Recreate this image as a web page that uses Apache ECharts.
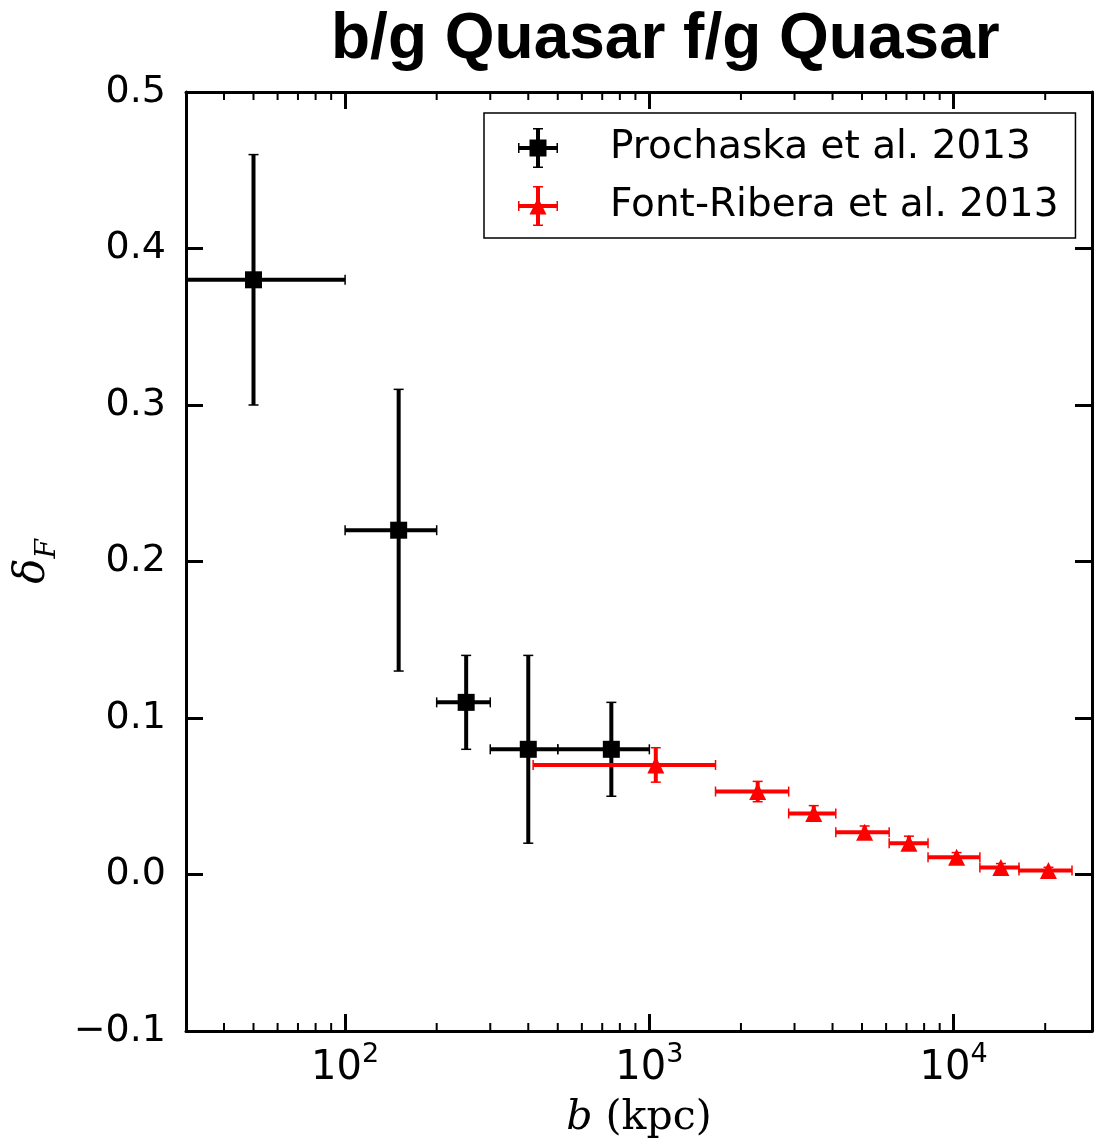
<!DOCTYPE html>
<html lang="en">
<head>
    <meta charset="UTF-8">
    <title>delta_F vs b</title>
    <script src="https://cdn.jsdelivr.net/npm/echarts@6/dist/echarts.min.js"></script>
    <style>
        html, body { margin: 0; padding: 0; background: #fff; }
    </style>
</head>
<body>
    <div id="main" style="width:1097px;height:1144px;"></div>
    <script type="text/javascript">
        // Prochaska et al. 2013: b, delta, b low, b high, delta err
        const proB = [50, 150, 250, 400, 750];
        const proDelta = [0.38, 0.22, 0.11, 0.08, 0.08];
        const proBLow = [0, 100, 200, 300, 500];
        const proBHigh = [100, 200, 300, 500, 1000];
        const proErr = [0.08, 0.09, 0.03, 0.06, 0.03];

        // Font-Ribera et al. 2013
        const frB = [1050, 2270, 3470, 5100, 7130, 10230, 14300, 20500];
        const frDelta = [0.070, 0.053, 0.039, 0.027, 0.020, 0.011, 0.0045, 0.0026];
        const frBLow = [415, 1650, 2870, 4100, 6140, 8240, 12200, 16400];
        const frBHigh = [1650, 2870, 4100, 6140, 8240, 12200, 16400, 24500];
        const frErr = [0.011, 0.0065, 0.005, 0.004, 0.0045, 0.003, 0.0025, 0.002];

        // minor tick positions on the log axis
        const minorTicks = [40, 50, 60, 70, 80, 90, 200, 300, 400, 500, 600, 700, 800, 900,
            2000, 3000, 4000, 5000, 6000, 7000, 8000, 9000, 20000];

        const xMin = 30, xMax = 28500;

        function rows(b, d, lo, hi, err) {
            return b.map((v, i) => [v, d[i], lo[i], hi[i], d[i] - err[i], d[i] + err[i]]);
        }

        function errorBarItem(color, marker) {
            return function (params, api) {
                const cs = params.coordSys;
                const c = api.coord([api.value(0), api.value(1)]);
                const lo = api.value(2) > 0 ? Math.max(api.coord([api.value(2), 0])[0], cs.x) : cs.x;
                const hi = Math.min(api.coord([api.value(3), 0])[0], cs.x + cs.width);
                const yTop = api.coord([api.value(0), api.value(5)])[1];
                const yBot = api.coord([api.value(0), api.value(4)])[1];
                const line = { stroke: color, lineWidth: 4 };
                const cap = { stroke: color, lineWidth: 1.5 };
                const kids = [
                    { type: 'line', shape: { x1: lo, y1: c[1], x2: hi, y2: c[1] }, style: line },
                    { type: 'line', shape: { x1: c[0], y1: yTop, x2: c[0], y2: yBot }, style: line },
                    { type: 'line', shape: { x1: c[0] - 5, y1: yTop, x2: c[0] + 5, y2: yTop }, style: cap },
                    { type: 'line', shape: { x1: c[0] - 5, y1: yBot, x2: c[0] + 5, y2: yBot }, style: cap }
                ];
                if (lo > cs.x + 1) {
                    kids.push({ type: 'line', shape: { x1: lo, y1: c[1] - 5, x2: lo, y2: c[1] + 5 }, style: cap });
                }
                kids.push({ type: 'line', shape: { x1: hi, y1: c[1] - 5, x2: hi, y2: c[1] + 5 }, style: cap });
                if (marker === 'square') {
                    kids.push({ type: 'rect', shape: { x: c[0] - 8.5, y: c[1] - 8.5, width: 17, height: 17 }, style: { fill: color } });
                } else {
                    kids.push({ type: 'polygon', shape: { points: [[c[0], c[1] - 8.5], [c[0] - 8.5, c[1] + 8.5], [c[0] + 8.5, c[1] + 8.5]] }, style: { fill: color } });
                }
                return { type: 'group', children: kids };
            };
        }

        // legend icons: error-bar cross with the marker, all sub-paths drawn clockwise
        const crossPath = 'M0,18L40,18L40,22L0,22Z M18,0L22,0L22,40L18,40Z M15,0L25,0L25,1.5L15,1.5Z M15,38.5L25,38.5L25,40L15,40Z M0,15L1.5,15L1.5,25L0,25Z M38.5,15L40,15L40,25L38.5,25Z';
        const blackIcon = 'path://' + crossPath + ' M11.5,11.5L28.5,11.5L28.5,28.5L11.5,28.5Z';
        const redIcon = 'path://' + crossPath + ' M20,11.5L28.5,28.5L11.5,28.5Z';

        const tickStyle = { show: true, inside: true, length: 17, lineStyle: { color: '#000', width: 3 } };
        const axisLineStyle = { show: true, onZero: false, lineStyle: { color: '#000', width: 3 } };

        function logLabel(v) {
            const e = Math.round(Math.log10(v));
            if (Math.abs(Math.pow(10, e) - v) > 1e-6 * v) return '';
            return '{b|10}{s|' + e + '}';
        }

        const options = {
            animation: false,
            backgroundColor: '#fff',
            title: {
                text: 'b/g Quasar f/g Quasar',
                left: 326,
                top: 3,
                textStyle: { fontFamily: 'Liberation Sans', fontWeight: 'bold', fontSize: 64, color: '#000' }
            },
            legend: {
                orient: 'vertical',
                left: 484,
                top: 113,
                padding: [15, 17, 12, 34],
                itemGap: 18,
                itemWidth: 40,
                itemHeight: 40,
                borderColor: '#000',
                borderWidth: 1.5,
                borderRadius: 0,
                backgroundColor: '#fff',
                textStyle: { fontFamily: 'DejaVu Sans', fontSize: 39, color: '#000', padding: [0, 0, 0, 47] },
                data: [
                    { name: 'Prochaska et al. 2013', icon: blackIcon, itemStyle: { color: '#000' } },
                    { name: 'Font-Ribera et al. 2013', icon: redIcon, itemStyle: { color: '#ff0000' } }
                ]
            },
            grid: { left: 186, right: 5, top: 92, bottom: 113, containLabel: false },
            xAxis: [{
                type: 'log',
                min: xMin,
                max: xMax,
                position: 'bottom',
                axisLine: axisLineStyle,
                axisTick: tickStyle,
                splitLine: { show: false },
                name: '{i|b}{r| (kpc)}',
                nameLocation: 'middle',
                nameGap: 67,
                nameTextStyle: {
                    rich: {
                        i: { fontFamily: 'DejaVu Serif', fontStyle: 'italic', fontSize: 41, color: '#000' },
                        r: { fontFamily: 'DejaVu Serif', fontSize: 41, color: '#000' }
                    }
                },
                axisLabel: {
                    margin: 10,
                    showMinLabel: false,
                    showMaxLabel: false,
                    formatter: logLabel,
                    rich: {
                        b: { fontFamily: 'DejaVu Sans', fontSize: 40, color: '#000', lineHeight: 48, verticalAlign: 'bottom' },
                        s: { fontFamily: 'DejaVu Sans', fontSize: 27, color: '#000', lineHeight: 27, verticalAlign: 'top' }
                    }
                }
            }, {
                type: 'log',
                min: xMin,
                max: xMax,
                position: 'top',
                axisLine: axisLineStyle,
                axisTick: tickStyle,
                axisLabel: { show: false },
                splitLine: { show: false }
            }],
            yAxis: [{
                type: 'value',
                min: -0.1,
                max: 0.5,
                interval: 0.1,
                position: 'left',
                axisLine: axisLineStyle,
                axisTick: tickStyle,
                splitLine: { show: false },
                axisLabel: {
                    margin: 20,
                    fontFamily: 'DejaVu Sans',
                    fontSize: 38,
                    color: '#000',
                    formatter: v => v.toFixed(1).replace('-', '\u2212')
                },
                name: '{d|δ}{f|F}',
                nameLocation: 'middle',
                nameRotate: 90,
                nameGap: 124,
                nameTextStyle: {
                    rich: {
                        d: { fontFamily: 'DejaVu Serif', fontStyle: 'italic', fontSize: 42, color: '#000', lineHeight: 50, verticalAlign: 'top' },
                        f: { fontFamily: 'DejaVu Serif', fontStyle: 'italic', fontSize: 28, color: '#000', lineHeight: 50, verticalAlign: 'bottom' }
                    }
                }
            }, {
                type: 'value',
                min: -0.1,
                max: 0.5,
                interval: 0.1,
                position: 'right',
                axisLine: axisLineStyle,
                axisTick: tickStyle,
                axisLabel: { show: false },
                splitLine: { show: false }
            }],
            series: [{
                name: 'minor ticks',
                type: 'custom',
                silent: true,
                xAxisIndex: 0,
                yAxisIndex: 0,
                data: minorTicks.map(v => [v]),
                renderItem: function (params, api) {
                    const cs = params.coordSys;
                    const x = api.coord([api.value(0), 0])[0];
                    const st = { stroke: '#000', lineWidth: 2 };
                    return {
                        type: 'group', children: [
                            { type: 'line', shape: { x1: x, y1: cs.y + cs.height, x2: x, y2: cs.y + cs.height - 8 }, style: st },
                            { type: 'line', shape: { x1: x, y1: cs.y, x2: x, y2: cs.y + 8 }, style: st }
                        ]
                    };
                },
                encode: { x: 0 }
            }, {
                name: 'Prochaska et al. 2013',
                type: 'custom',
                xAxisIndex: 0,
                yAxisIndex: 0,
                itemStyle: { color: '#000' },
                data: rows(proB, proDelta, proBLow, proBHigh, proErr),
                encode: { x: [0, 2, 3], y: [1, 4, 5] },
                renderItem: errorBarItem('#000', 'square'),
                z: 3
            }, {
                name: 'Font-Ribera et al. 2013',
                type: 'custom',
                xAxisIndex: 0,
                yAxisIndex: 0,
                itemStyle: { color: '#ff0000' },
                data: rows(frB, frDelta, frBLow, frBHigh, frErr),
                encode: { x: [0, 2, 3], y: [1, 4, 5] },
                renderItem: errorBarItem('#ff0000', 'triangle'),
                z: 4
            }]
        };

        const myChart = echarts.init(document.getElementById('main'));
        myChart.setOption(options);
    </script>
</body>
</html>
